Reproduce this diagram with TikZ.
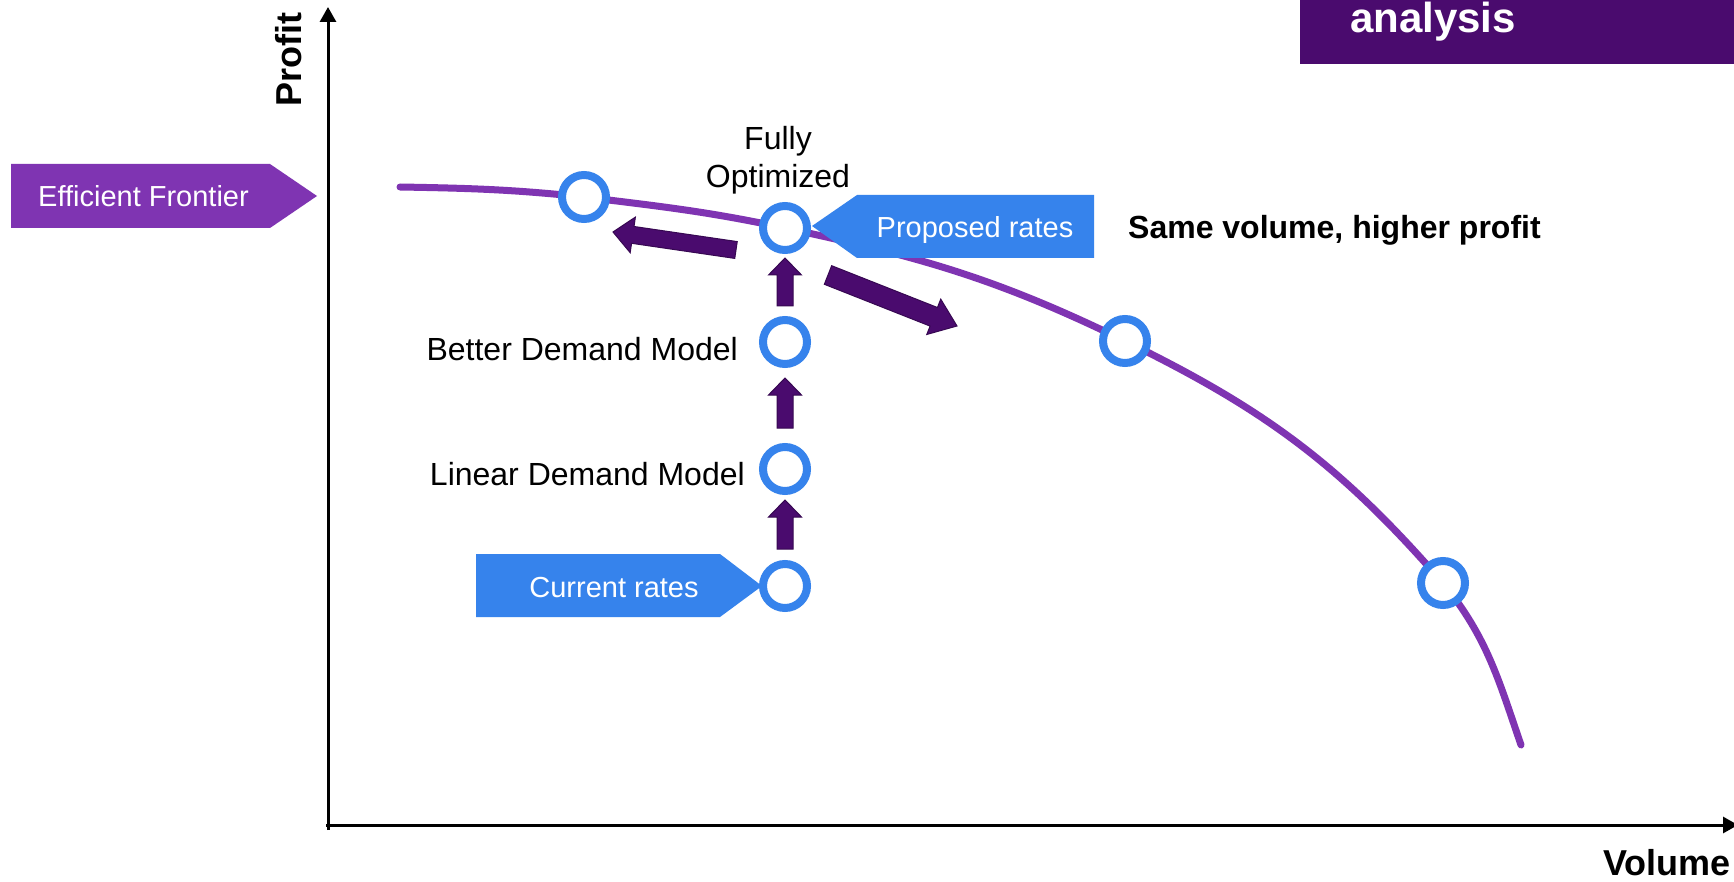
\documentclass[tikz,border=0pt]{standalone}
\usepackage{fontspec}
\setmainfont{Liberation Sans}
\usetikzlibrary{calc,arrows.meta}
\definecolor{frontier}{RGB}{127,52,178}
\definecolor{ptblue}{RGB}{54,131,236}
\definecolor{deeppurple}{RGB}{74,11,110}
\newcommand{\blockarrow}[5]{% tail, tip, shaft half, head half, head length
  \coordinate (tmpH) at ($(#2)!#5!(#1)$);
  \fill[deeppurple, draw=deeppurple!75!black, line width=1pt, line join=miter]
    ($(#1)!#3!90:(#2)$) -- ($(tmpH)!#3!-90:(#1)$) -- ($(tmpH)!#4!-90:(#1)$) -- (#2)
    -- ($(tmpH)!#4!90:(#1)$) -- ($(tmpH)!#3!90:(#1)$) -- ($(#1)!#3!-90:(#2)$) -- cycle;
}
\begin{document}
\begin{tikzpicture}[x=1pt,y=-1pt,
  axis/.style={line width=3pt, black},
  ring/.style={circle, draw=ptblue, fill=white, line width=8pt, minimum size=44pt, inner sep=0pt},
  lbl/.style={inner sep=0pt, font=\fontsize{32}{38}\selectfont, text=black},
  boldlbl/.style={inner sep=0pt, font=\fontsize{36}{40}\selectfont\bfseries, text=black},
  calltext/.style={inner sep=0pt, font=\fontsize{29}{34}\selectfont, text=white},
]
\useasboundingbox (0,0) rectangle (1734,882);
\fill[white] (0,0) rectangle (1734,882);

% header box
\fill[deeppurple] (1300,0) rectangle (1734,64);
\node[inner sep=0pt, font=\fontsize{42}{46}\selectfont\bfseries, text=white, anchor=base west] (hdr) at (1350,33) {analysis};

% axes
\coordinate (origin) at (328,830);
\coordinate (ytop) at (328,7);
\coordinate (xorig) at (326,825);
\coordinate (xend) at (1738,825);
\draw[axis, -{Triangle[length=15pt,width=16pt]}] (origin) -- (ytop);
\draw[axis, -{Triangle[length=15pt,width=16pt]}] (xorig) -- (xend);
\node[boldlbl, rotate=90] (ylab) at (289,60) {Profit};
\node[boldlbl, anchor=base east] (xlab) at (1731,875) {Volume};

% frontier curve
\coordinate (fs) at (400,187);
\coordinate (fe) at (1521,745);
\draw[frontier, line width=7pt, line cap=round]
  (fs) to[out=-1, in=174] (584,197) to[out=-7, in=168] (785,228)
  to[out=-12, in=154] (1125,341) to[out=-26, in=131] (1443,583)
  to[out=-51, in=109] (fe);

% Efficient Frontier callout
\fill[frontier] (11,164) -- (270,164) -- (317,196) -- (270,228) -- (11,228) -- cycle;
\node[calltext, anchor=base west] (eff) at (38,207) {Efficient Frontier};

% Proposed rates callout
\fill[ptblue] (812,226) -- (857,195) -- (1094,195) -- (1094,258) -- (857,258) -- cycle;
\node[calltext, anchor=base] (prop) at (975,238) {Proposed rates};

% Current rates callout
\fill[ptblue] (476,554) -- (720,554) -- (762,586) -- (720,617) -- (476,617) -- cycle;
\node[calltext, anchor=base] (cur) at (614,597) {Current rates};

% circles
\node[ring] (c1) at (584,197) {};
\node[ring] (cfo) at (785,228) {};
\node[ring] (cmid) at (1125,341) {};
\node[ring] (clow) at (1443,583) {};
\node[ring] (cbet) at (785,342) {};
\node[ring] (clin) at (785,469) {};
\node[ring] (ccur) at (785,586) {};

% labels
\node[lbl, anchor=north, align=center] (fully) at (778,126.6) {Fully\\Optimized};
\node[lbl, anchor=base east] (better) at (738,360) {Better Demand Model};
\node[lbl, anchor=base east] (linear) at (745,485) {Linear Demand Model};
\node[lbl, font=\fontsize{32}{38}\selectfont\bfseries, anchor=base west] (same) at (1128,239) {Same volume, higher profit};

% block arrows
\coordinate (a1t) at (785,549); \coordinate (a1h) at (785,500);
\coordinate (a2t) at (785,428); \coordinate (a2h) at (785,378);
\coordinate (a3t) at (785,306); \coordinate (a3h) at (785,258);
\coordinate (alt) at (736,250); \coordinate (alh) at (613,232);
\coordinate (art) at (828,275); \coordinate (arh) at (957,326);
\blockarrow{a1t}{a1h}{8pt}{16.5pt}{17pt}
\blockarrow{a2t}{a2h}{8pt}{16.5pt}{17pt}
\blockarrow{a3t}{a3h}{8pt}{16.5pt}{17pt}
\blockarrow{alt}{alh}{8.5pt}{18pt}{20pt}
\blockarrow{art}{arh}{10pt}{19pt}{25pt}
\end{tikzpicture}
\end{document}
